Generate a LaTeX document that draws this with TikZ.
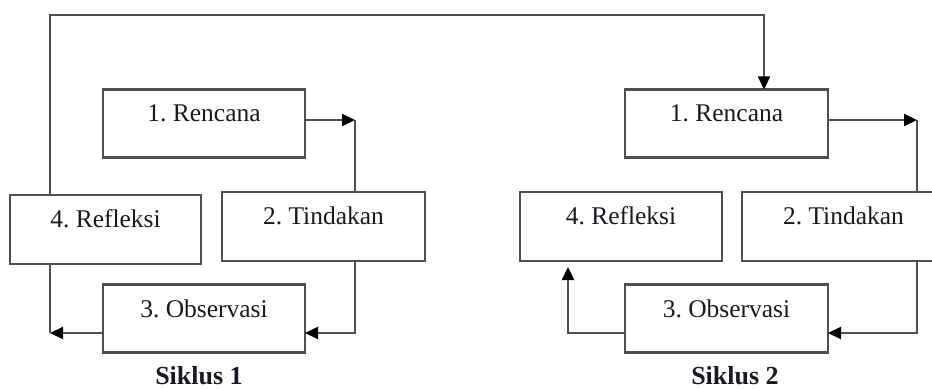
\documentclass[tikz,border=0pt]{standalone}
\usepackage{fontspec}
\setmainfont{Liberation Serif}
\usetikzlibrary{arrows.meta}
\definecolor{linecol}{RGB}{80,80,80}
\definecolor{txtcol}{RGB}{25,25,35}
\begin{document}
\frenchspacing
\begin{tikzpicture}[x=1pt,y=-1pt,
  box/.style={draw=linecol, line width=2.2pt, inner sep=0pt, outer sep=0pt,
    minimum height=68pt, text=txtcol,
    font=\fontsize{25.5}{30}\selectfont, text height=17pt, text depth=20pt},
  ln/.style={draw=linecol, line width=2.2pt},
  arr/.style={ln, -{Triangle[length=13pt,width=12pt,color=black]}},
  cyclelabel/.style={font=\bfseries\fontsize{26}{30}\selectfont, text=txtcol, anchor=base, inner sep=0pt}]
\clip (0,0) rectangle (932,390);
% Siklus 1
\node[box, minimum width=202pt] (r1) at (204,123.5) {1. Rencana};
\node[box, minimum width=191pt, minimum height=69pt] (f1) at (105.5,229.5) {4. Refleksi};
\node[box, minimum width=203pt, minimum height=69pt] (t1) at (323.5,226.5) {2. Tindakan};
\node[box, minimum width=202pt] (o1) at (204,318.5) {3. Observasi};
\node[cyclelabel] (s1) at (199,384) {Siklus 1};
% Siklus 2
\node[box, minimum width=203pt] (r2) at (726.5,123.5) {1. Rencana};
\node[box, minimum width=202pt, minimum height=69pt] (f2) at (621,226.5) {4. Refleksi};
\node[box, minimum width=203pt, minimum height=69pt] (t2) at (843.5,226.5) {2. Tindakan};
\node[box, minimum width=203pt] (o2) at (726.5,318.5) {3. Observasi};
\node[cyclelabel] (s2) at (735,384) {Siklus 2};
% coordinates
\coordinate (tl) at (50,15);
\coordinate (tr) at (764,15);
\coordinate (c1) at (355,120);
\coordinate (c2) at (355,333);
\coordinate (c3) at (50,333);
\coordinate (c4) at (917,120);
\coordinate (c5) at (917,333);
\coordinate (c6) at (568,333);
% connectors
\draw[arr] (f1.north -| tl) -- (tl) -- (tr) -- (r2.north -| tr);
\draw[arr] (r1.east |- c1) -- (c1);
\draw[ln] (c1) -- (t1.north -| c1);
\draw[arr] (t1.south -| c2) -- (c2) -- (o1.east |- c2);
\draw[ln] (f1.south -| c3) -- (c3);
\draw[arr] (o1.west |- c3) -- (c3);
\draw[arr] (r2.east |- c4) -- (c4);
\draw[ln] (c4) -- (t2.north -| c4);
\draw[arr] (t2.south -| c5) -- (c5) -- (o2.east |- c5);
\draw[arr, shorten >=6pt] (o2.west |- c6) -- (c6) -- (f2.south -| c6);
\end{tikzpicture}
\end{document}
